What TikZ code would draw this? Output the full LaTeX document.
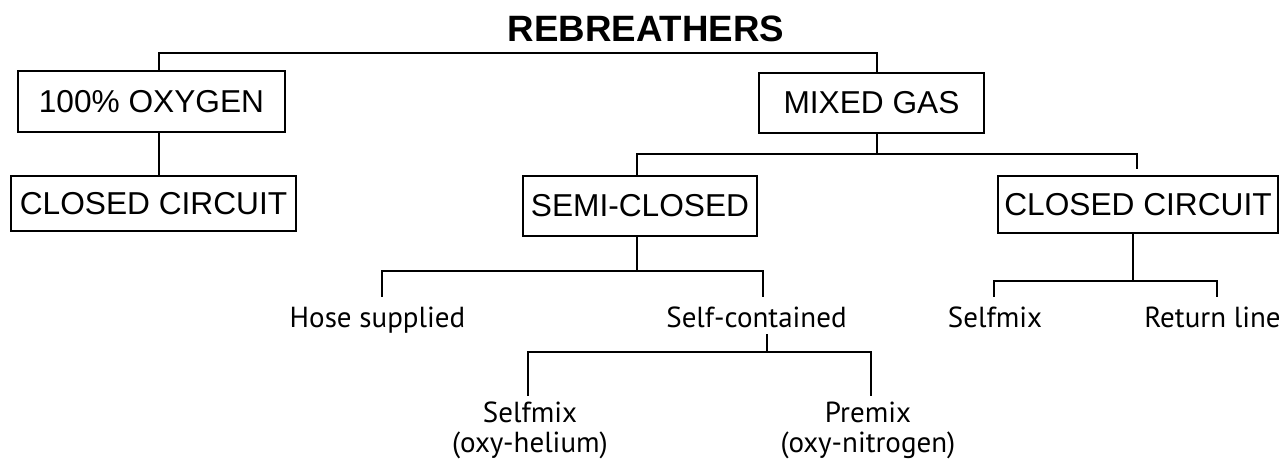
\documentclass[tikz,border=0pt]{standalone}
\usepackage{fontspec}
\setmainfont{Liberation Sans}
\newfontfamily\lblfont{PT Sans}
\usetikzlibrary{calc}

\tikzset{
  box/.style={draw, line width=1.6pt, inner sep=0pt, font=\fontsize{23.75}{28}\selectfont},
  lbl/.style={inner sep=4.5pt, text height=18.75pt, text depth=0pt, anchor=base, font=\lblfont\fontsize{21.75}{22.5}\selectfont},
  lbltwo/.style={inner sep=4.5pt, align=center, anchor=north, font=\lblfont\fontsize{21.75}{22.5}\selectfont},
  bus/.style={line width=1.6pt},
}

\begin{document}
\begin{tikzpicture}[x=0.75pt,y=0.75pt,yscale=-1,xscale=1]
\useasboundingbox (0,0) rectangle (1283,459);

% Text Node
\node [font=\bfseries\fontsize{27.5}{32}\selectfont, anchor=base, inner sep=0pt] (title) at (646,42) {REBREATHERS};

%Shape: Rectangle
\node [box, minimum width=200.25pt, minimum height=45.75pt] (oxy) at (151.5,101.5) {100\% OXYGEN};
\node [box, minimum width=213.75pt, minimum height=41.25pt] (cc1) at (153.5,203.5) {CLOSED CIRCUIT};
\node [box, minimum width=168.75pt, minimum height=45pt] (mixed) at (871.5,103) {MIXED GAS};
\node [box, minimum width=175.5pt, minimum height=45pt] (semi) at (640,206) {SEMI-CLOSED};
\node [box, minimum width=210pt, minimum height=42.75pt] (cc2) at (1138,204.5) {CLOSED CIRCUIT};

% Text Node
\node [lbl] (hose) at (377.5,328) {Hose supplied};
\node [lbl] (selfc) at (756.5,328) {Self-contained};
\node [lbl] (mix2) at (995,328) {Selfmix};
\node [lbl] (ret) at (1212.5,328) {Return line};
\node [lbltwo] (mix1) at (530,396) {Selfmix\\(oxy-helium)};
\node [lbltwo] (pm) at (868,396) {Premix\\(oxy-nitrogen)};

% bus points
\coordinate (t1) at (159,53);
\coordinate (t2) at (877,53);
\coordinate (m1) at (637,154);
\coordinate (m2) at (1137,154);
\coordinate (s1) at (382,271);
\coordinate (s2) at (763,271);
\coordinate (c0) at (767,352);
\coordinate (c1) at (528,352);
\coordinate (c2) at (871,352);
\coordinate (r0) at (1133,281);
\coordinate (r1) at (994,281);
\coordinate (r2) at (1217,281);

%Straight Lines
\draw [bus] (oxy.north -| t1) |- (t2) -- (mixed.north -| t2);
\draw [bus] (oxy.south -| t1) -- (cc1.north -| t1);
\draw [bus] (mixed.south -| t2) -- (t2 |- m1);
\draw [bus, shorten >=4.5pt] (semi.north -| m1) |- (m2) -- (cc2.north -| m2);
\draw [bus] (semi.south -| m1) -- (m1 |- s1);
\draw [bus] (hose.north -| s1) |- (s2) -- (selfc.north -| s2);
\draw [bus] (selfc.south -| c0) -- (c0);
\draw [bus] (mix1.north -| c1) |- (c2) -- (pm.north -| c2);
\draw [bus] (cc2.south -| r0) -- (r0);
\draw [bus] (mix2.north -| r1) |- (r2) -- (ret.north -| r2);

\end{tikzpicture}
\end{document}
